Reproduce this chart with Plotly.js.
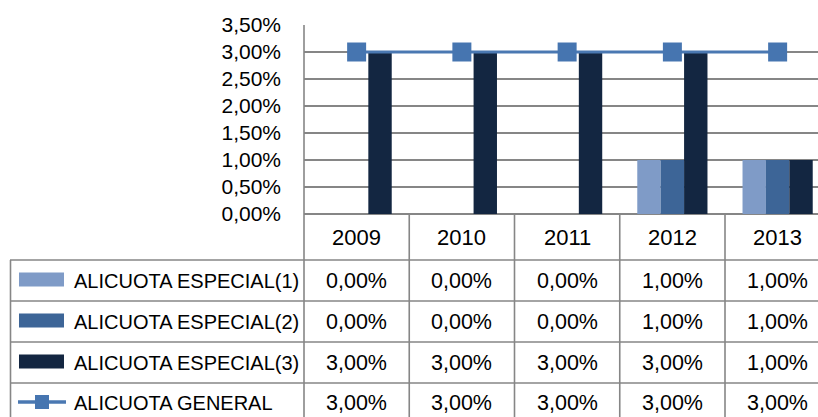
<!DOCTYPE html>
<html>
<head>
<meta charset="utf-8">
<script src="https://cdn.plot.ly/plotly-3.0.1.min.js"></script>
<style>
html,body{margin:0;padding:0;background:#fff;}
#chart{width:818px;height:417px;}
</style>
</head>
<body>
<div id="chart"></div>
<script>
// ---- data ----
var years = ['2009', '2010', '2011', '2012', '2013'];
var seriesNames = ['ALICUOTA ESPECIAL(1)', 'ALICUOTA ESPECIAL(2)', 'ALICUOTA ESPECIAL(3)', 'ALICUOTA GENERAL'];
var especial1 = [0.00, 0.00, 0.00, 0.01, 0.01];
var especial2 = [0.00, 0.00, 0.00, 0.01, 0.01];
var especial3 = [0.03, 0.03, 0.03, 0.03, 0.01];
var general   = [0.03, 0.03, 0.03, 0.03, 0.03];
var yTicks = [0, 0.005, 0.01, 0.015, 0.02, 0.025, 0.03, 0.035];

// ---- styles ----
var colors = ['#7f9bc7', '#3d6597', '#132641', '#4a78b2'];
var FONT = 'Liberation Sans, Arial, sans-serif';
var W = 818, H = 417;
var ML = 304, MR = 0, MT = 25, MB = 203;
var plotW = W - ML - MR, plotH = H - MT - MB;
function xp(px){ return (px - ML) / plotW; }
function yp(py){ return (H - MB - py) / plotH; }
function fmt(v){ return (v * 100).toFixed(2).replace('.', ',') + '%'; }

var traces = [
  {type:'bar', x: years, y: especial1, name: seriesNames[0], marker:{color: colors[0]}},
  {type:'bar', x: years, y: especial2, name: seriesNames[1], marker:{color: colors[1]}},
  {type:'bar', x: years, y: especial3, name: seriesNames[2], marker:{color: colors[2]}},
  {type:'scatter', mode:'lines+markers', x: years, y: general, name: seriesNames[3],
   line:{color: colors[3], width: 3},
   marker:{symbol:'square', size: 19, color: '#4675b0', line:{width:0}}}
];

var gridCol = '#868686';
var shapes = [];
var annotations = [];

// table lines
var rowTops = [260, 301, 342, 383];
var rowH = 41;
rowTops.forEach(function(t){
  shapes.push({type:'line', xref:'paper', yref:'paper', x0: xp(10), x1: 1, y0: yp(t), y1: yp(t),
    line:{color: gridCol, width: 1.6}});
});
// left border of label column
shapes.push({type:'line', xref:'paper', yref:'paper', x0: xp(10.5), x1: xp(10.5), y0: yp(260), y1: yp(H + 5),
  line:{color: gridCol, width: 1.6}});
// plot-area left border down through table
shapes.push({type:'line', xref:'paper', yref:'paper', x0: 0, x1: 0, y0: 1, y1: yp(H + 5),
  line:{color: gridCol, width: 1.6}});
// column dividers
for (var i = 0; i < years.length; i++) {
  shapes.push({type:'line', xref:'x', yref:'paper', x0: i + 0.5, x1: i + 0.5, y0: 0, y1: yp(H + 5),
    line:{color: gridCol, width: 1.6}});
}

// year header
years.forEach(function(y, i){
  annotations.push({xref:'x', yref:'paper', x: i, y: yp(237), text: y, showarrow:false,
    xanchor:'center', yanchor:'middle', font:{family: FONT, size: 22, color:'#000'}});
});

// cell values
var seriesData = [especial1, especial2, especial3, general];
seriesData.forEach(function(arr, r){
  var cy = rowTops[r] + rowH / 2;
  arr.forEach(function(v, i){
    annotations.push({xref:'x', yref:'paper', x: i, y: yp(cy), text: fmt(v), showarrow:false,
      xanchor:'center', yanchor:'middle', font:{family: FONT, size: 21.5, color:'#000'}});
  });
  annotations.push({xref:'paper', yref:'paper', x: xp(72), y: yp(cy), text: seriesNames[r], showarrow:false,
    xanchor:'left', yanchor:'middle', font:{family: FONT, size: 20, color:'#000'}});
  // legend keys
  if (r < 3) {
    shapes.push({type:'rect', xref:'paper', yref:'paper', x0: xp(19), x1: xp(64),
      y0: yp(cy - 8), y1: yp(cy + 6), fillcolor: colors[r], line:{width:0}});
  } else {
    shapes.push({type:'line', xref:'paper', yref:'paper', x0: xp(18), x1: xp(66),
      y0: yp(cy - 1.5), y1: yp(cy - 1.5), line:{color: colors[3], width: 3.5}});
    shapes.push({type:'rect', xref:'paper', yref:'paper', x0: xp(35), x1: xp(49),
      y0: yp(cy - 8.5), y1: yp(cy + 5.5), fillcolor: '#4675b0', line:{width:0}});
  }
});

var layout = {
  width: W, height: H,
  margin: {l: ML, r: MR, t: MT, b: MB, pad: 0},
  paper_bgcolor: '#fff', plot_bgcolor: '#fff',
  separators: ',.',
  showlegend: false,
  barmode: 'group', bargap: 0.333, bargroupgap: 0,
  font: {family: FONT, color: '#000'},
  xaxis: {type:'category', range: [-0.5, -0.5 + plotW / 105.25], showticklabels: false,
    showgrid: false, zeroline: false, showline: false, ticks: '', fixedrange: true},
  yaxis: {range: [0, 0.035], tickvals: yTicks, tickformat: '.2%', showgrid: true,
    gridcolor: gridCol, gridwidth: 1.4, zeroline: true, zerolinecolor: gridCol, zerolinewidth: 1.6,
    showline: false, ticks: '', ticklabelstandoff: 22,
    tickfont: {family: FONT, size: 21, color: '#000'}, fixedrange: true},
  shapes: shapes,
  annotations: annotations
};

Plotly.newPlot('chart', traces, layout, {displayModeBar: false, staticPlot: true});
</script>
</body>
</html>
